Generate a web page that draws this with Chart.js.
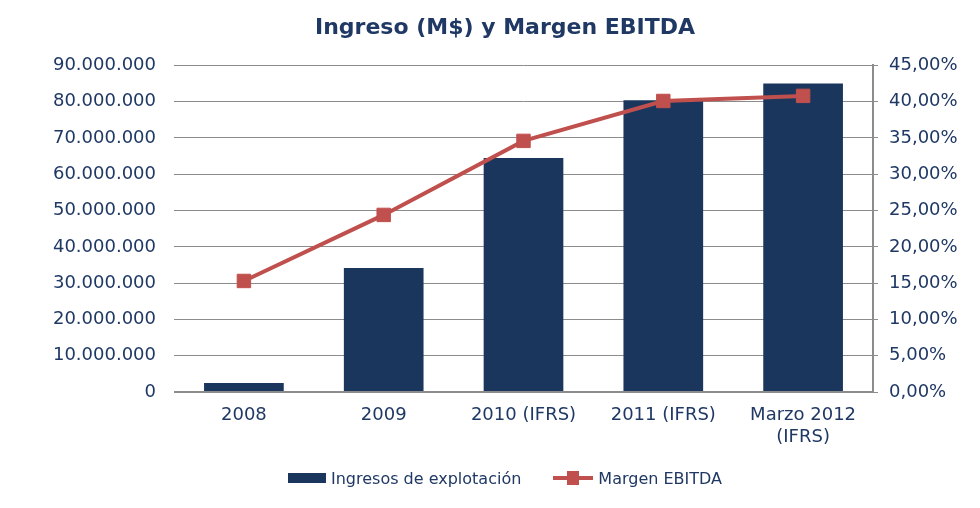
<!DOCTYPE html>
<html>
<head>
<meta charset="utf-8">
<script src="https://cdn.jsdelivr.net/npm/chart.js@4/dist/chart.umd.min.js"></script>
<style>
  html, body { margin: 0; padding: 0; background: #ffffff; }
  #wrap { width: 980px; height: 508px; position: relative; }
  #legend {
    position: absolute; left: 30px; right: 0; top: 468px; height: 20px;
    display: flex; justify-content: center; align-items: center;
    font-family: 'DejaVu Sans', Verdana, sans-serif; font-size: 16px; color: #1f3864;
  }
  .item { display: flex; align-items: center; }
  .item + .item { margin-left: 32px; }
  .sw { margin-right: 5px; }
</style>
</head>
<body>
<div id="wrap">
  <canvas id="ebitdaChart" width="980" height="508"></canvas>
  <div id="legend"></div>
</div>
<script>
// Data
const categories = ['2008', '2009', '2010 (IFRS)', '2011 (IFRS)', ['Marzo 2012', '(IFRS)']];
const ingresos = [2500000, 34200000, 64500000, 80400000, 85000000];
const margenEbitda = [15.3, 24.4, 34.6, 40.1, 40.8];
const leftTicks = [0, 10000000, 20000000, 30000000, 40000000, 50000000, 60000000, 70000000, 80000000, 90000000];
const rightTicks = [0, 5, 10, 15, 20, 25, 30, 35, 40, 45];

const NAVY = '#1b365d';
const RED = '#c0504d';
const TEXT = '#1f3864';
const GRID = '#8c8c8c';
const FONT = "'DejaVu Sans', Verdana, sans-serif";

function fmtMiles(v) {
  return v.toString().replace(/\B(?=(\d{3})+(?!\d))/g, '.');
}
function fmtPct(v) {
  return v.toFixed(2).replace('.', ',') + '%';
}

// legend swatches as small canvases
function swatchBar() {
  const c = document.createElement('canvas');
  c.width = 38; c.height = 10;
  const g = c.getContext('2d');
  g.fillStyle = NAVY;
  g.fillRect(0, 0, 38, 10);
  return c;
}
function swatchLine() {
  const c = document.createElement('canvas');
  c.width = 40; c.height = 14;
  const g = c.getContext('2d');
  g.fillStyle = RED;
  g.fillRect(0, 5, 40, 4);
  g.fillRect(14, 0, 12, 14);
  return c;
}

const ctx = document.getElementById('ebitdaChart');

const chart = new Chart(ctx, {
  data: {
    labels: categories,
    datasets: [
      {
        type: 'line',
        label: 'Margen EBITDA',
        data: margenEbitda,
        yAxisID: 'yR',
        borderColor: RED,
        backgroundColor: RED,
        borderWidth: 4,
        pointStyle: 'rect',
        pointRadius: 9.5,
        pointBorderWidth: 1,
        pointBackgroundColor: RED,
        pointBorderColor: RED,
        tension: 0,
        order: 0
      },
      {
        type: 'bar',
        label: 'Ingresos de explotación',
        data: ingresos,
        yAxisID: 'yL',
        backgroundColor: NAVY,
        borderWidth: 0,
        categoryPercentage: 1,
        barPercentage: 0.57,
        order: 1
      }
    ]
  },
  options: {
    responsive: false,
    animation: false,
    layout: { padding: { left: 30, right: 0, top: 0, bottom: 58 } },
    plugins: {
      title: {
        display: true,
        text: 'Ingreso (M$) y Margen EBITDA',
        color: TEXT,
        font: { family: FONT, size: 22, weight: 'bold' },
        padding: { top: 15, bottom: 24 }
      },
      legend: { display: false },
      tooltip: { enabled: false }
    },
    scales: {
      x: {
        grid: { display: false, drawTicks: false },
        border: { display: false },
        afterFit: function (axis) { axis.height = 58; },
        ticks: {
          color: TEXT,
          font: { family: FONT, size: 18, lineHeight: 1.25 },
          padding: 12,
          maxRotation: 0,
          autoSkip: false
        }
      },
      yL: {
        position: 'left',
        min: 0,
        max: 90000000,
        afterBuildTicks: function (axis) {
          axis.ticks = leftTicks.map(v => ({ value: v }));
        },
        afterFit: function (axis) { axis.width = 144; },
        grid: {
          color: GRID,
          lineWidth: c => (c.index === 0 ? 2 : 1),
          drawTicks: false
        },
        border: { display: false },
        ticks: {
          color: TEXT,
          font: { family: FONT, size: 18 },
          padding: 18,
          callback: v => fmtMiles(v)
        }
      },
      yR: {
        position: 'right',
        min: 0,
        max: 45,
        afterBuildTicks: function (axis) {
          axis.ticks = rightTicks.map(v => ({ value: v }));
        },
        afterFit: function (axis) { axis.width = 107; },
        grid: {
          drawOnChartArea: false,
          drawTicks: true,
          tickLength: 5,
          color: GRID
        },
        border: { display: true, color: GRID, width: 2 },
        ticks: {
          color: TEXT,
          font: { family: FONT, size: 18 },
          padding: 11,
          callback: v => fmtPct(v)
        }
      }
    }
  }
});

// HTML legend built from the chart's datasets (bar first, like the original)
const legend = document.getElementById('legend');
[chart.data.datasets[1], chart.data.datasets[0]].forEach(ds => {
  const item = document.createElement('div');
  item.className = 'item';
  const sw = ds.type === 'bar' ? swatchBar() : swatchLine();
  sw.className = 'sw';
  const txt = document.createElement('span');
  txt.textContent = ds.label;
  item.appendChild(sw);
  item.appendChild(txt);
  legend.appendChild(item);
});
</script>
</body>
</html>
